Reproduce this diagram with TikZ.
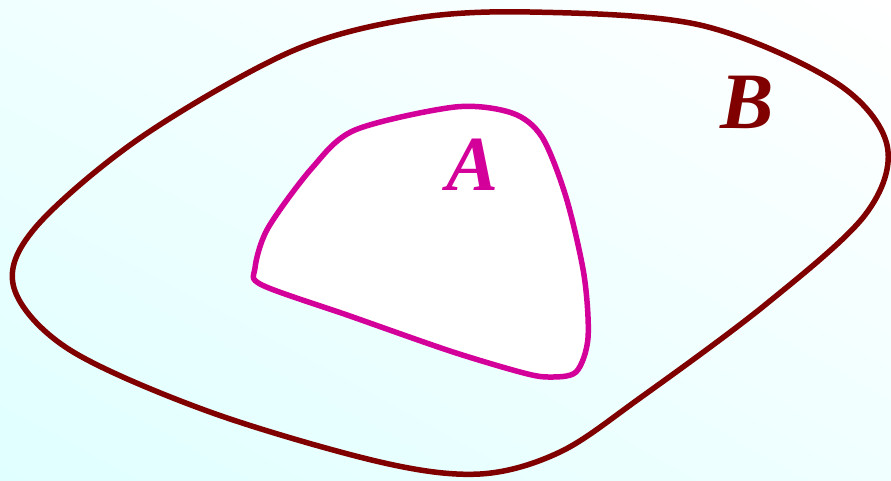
\documentclass[tikz,border=0pt]{standalone}
\usepackage{fontspec}
\setmainfont{Liberation Serif}
\usepackage{xcolor}
\usepackage{tikz}
\usetikzlibrary{shadings}
\definecolor{setB}{RGB}{128,0,0}
\definecolor{setA}{RGB}{212,0,154}
\definecolor{bgcyan}{RGB}{224,255,255}
\definecolor{bgcyanlight}{RGB}{240,255,255}
\begin{document}
\begin{tikzpicture}[x=1pt,y=-1pt]
  % Background
  \useasboundingbox (0,0) rectangle (891,480);
  \shade[lower left=bgcyan, upper left=bgcyanlight, lower right=bgcyanlight, upper right=white]
    (0,0) rectangle (891,480);
  % Set B (outer region)
  \draw[setB, line width=5.5pt, line join=round] plot[smooth cycle, tension=0.55] coordinates {
    (530,12) (700,25) (835,82) (887,145) (865,215) (765,305) (640,398) (560,452)
    (480,474) (380,462) (210,412) (70,350) (14,288) (35,228) (140,138) (290,52) (410,19)};
  % Set A (inner region)
  \filldraw[setA, fill=white, line width=5.5pt, line join=round] plot[smooth cycle, tension=0.5] coordinates {
    (455,107) (512,113) (542,137) (566,197) (584,275) (588,338) (576,372) (548,377)
    (520,372) (450,351) (350,316) (262,285) (255,268) (268,228) (312,168) (355,130)};
  % Labels
  \node[setA, font=\fontsize{78}{80}\selectfont\bfseries\itshape, anchor=base] (labelA) at (473,190) {A};
  \node[setB, font=\fontsize{80}{82}\selectfont\bfseries\itshape, anchor=base] (labelB) at (747,128) {B};
\end{tikzpicture}
\end{document}
